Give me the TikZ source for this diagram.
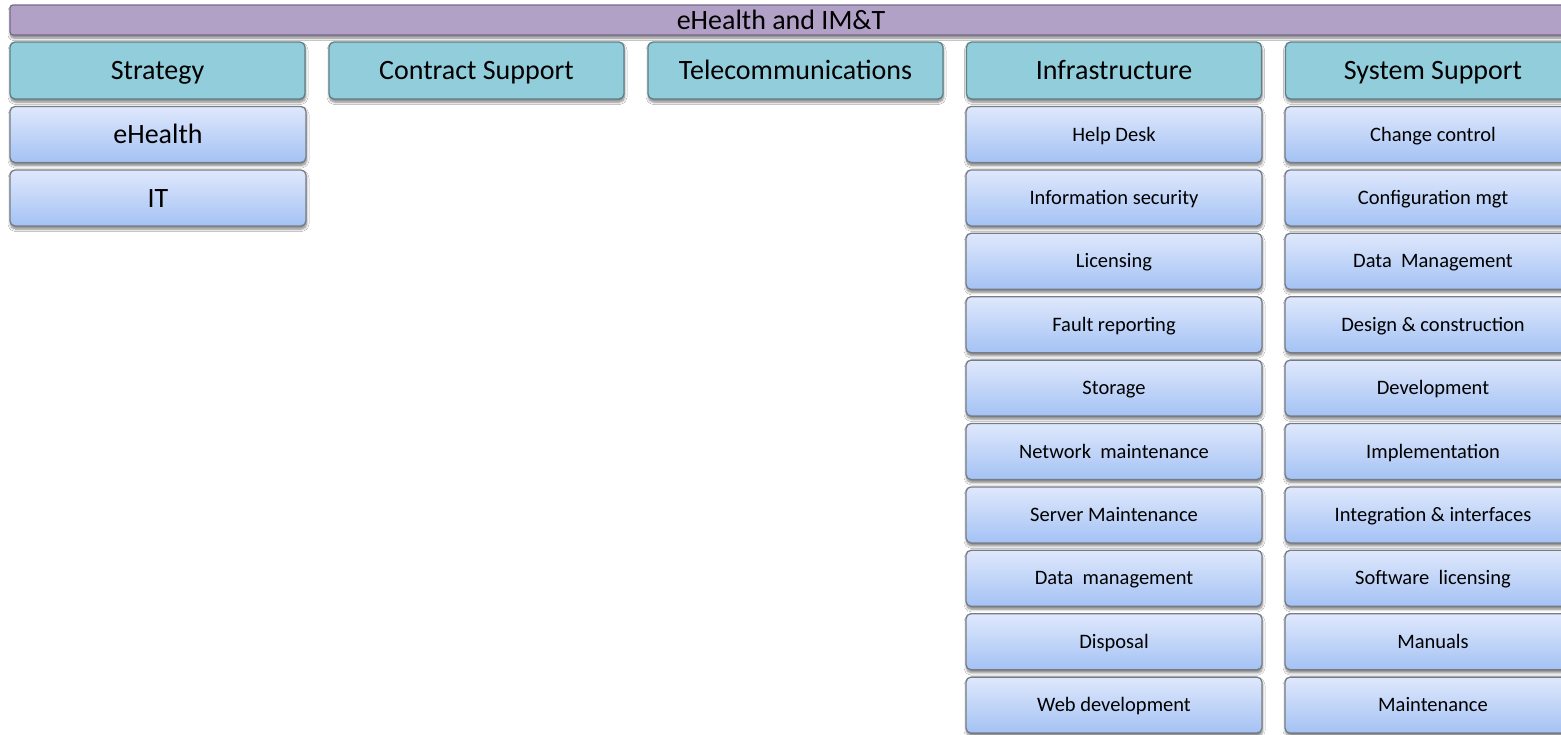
\documentclass[tikz,border=0pt]{standalone}
\usepackage{fontspec}
\setmainfont{Carlito}
\usetikzlibrary{shadows.blur}

\definecolor{barfill}{HTML}{B2A1C7}
\definecolor{barline}{HTML}{77698A}
\definecolor{headfill}{HTML}{92CDDC}
\definecolor{headline}{HTML}{5F7E87}
\definecolor{itemtop}{HTML}{DFE8FC}
\definecolor{itembot}{HTML}{A4C2F4}
\definecolor{itemline}{HTML}{767C86}

\tikzset{
  boxshadow/.style={blur shadow={shadow xshift=0.5pt, shadow yshift=-3pt,
      shadow blur steps=6, shadow blur radius=2.5pt, shadow opacity=50}},
  % text boxes whose middle sits at half the cap height
  bigtext/.style={font=\fontsize{28}{32}\selectfont,
      text height=23.6pt, text depth=5.6pt},
  smalltext/.style={font=\fontsize{20.5}{24}\selectfont,
      text height=17.3pt, text depth=4.1pt},
  topbar/.style={draw=barline, fill=barfill, line width=1.3pt,
      rounded corners=3pt, minimum height=30pt, inner sep=0pt, boxshadow},
  head/.style={draw=headline, fill=headfill, line width=1.3pt,
      rounded corners=5pt, minimum width=295pt, minimum height=57pt,
      inner sep=0pt, boxshadow, bigtext},
  item/.style={draw=itemline, top color=itemtop, bottom color=itembot,
      line width=1.3pt, rounded corners=5pt, minimum width=296pt,
      minimum height=56pt, inner sep=0pt, boxshadow, smalltext},
  bigitem/.style={item, bigtext},
  titletext/.style={inner sep=0pt, bigtext},
}

\begin{document}
\begin{tikzpicture}[x=1pt, y=-1pt]
  \clip (0,0) rectangle (1561,734);
  \fill[white] (0,0) rectangle (1561,734);

  % banner across the top
  \node[topbar, minimum width=1570pt] (bar) at (795,20) {};
  \node[titletext] (title) at (781,20) {eHealth and IM\&T};

  % department headers
  \node[head] (strategy) at (157.5,70.5) {Strategy};
  \node[head] (contract) at (476.5,70.5) {Contract Support};
  \node[head] (telecom)  at (795.5,70.5) {Telecommunications};
  \node[head] (infra)    at (1114,70.5)  {Infrastructure};
  \node[head] (syssup)   at (1433,70.5)  {System Support};

  % Strategy
  \node[bigitem] (s1) at (158,134.5) {eHealth};
  \node[bigitem] (s2) at (158,198)   {IT};

  % Infrastructure
  \foreach \t [count=\i from 0] in {Help Desk, Information security, Licensing,
      Fault reporting, Storage, Network\ \ maintenance, Server Maintenance,
      Data\ \ management, Disposal, Web development}
    \node[item] (inf\i) at (1114, 134.5+63.4*\i) {\t};

  % System Support
  \foreach \t [count=\i from 0] in {Change control, Configuration mgt,
      Data\ \ Management, Design \& construction, Development, Implementation,
      Integration \& interfaces, Software\ \ licensing, Manuals, Maintenance}
    \node[item] (sys\i) at (1433, 134.5+63.4*\i) {\t};
\end{tikzpicture}
\end{document}
